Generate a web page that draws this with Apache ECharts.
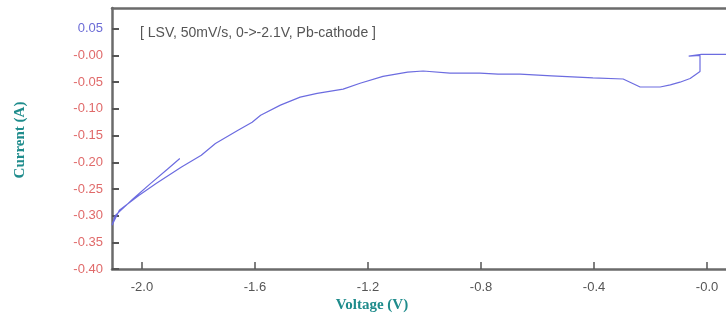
<!DOCTYPE html>
<html>
<head>
<meta charset="utf-8">
<script src="https://cdn.jsdelivr.net/npm/echarts@6/dist/echarts.min.js"></script>
<style>
  html, body { margin: 0; padding: 0; background: #fff; }
  #chart { width: 726px; height: 320px; }
</style>
</head>
<body>
<div id="chart"></div>
<script>
// barrido LSV: voltaje (V) y corriente (A)
const voltage = [0.067, -0.02, -0.065, -0.025, -0.025, -0.032, -0.06, -0.096, -0.13, -0.166, -0.237, -0.265,
  -0.297, -0.404, -0.55, -0.662, -0.74, -0.804, -0.91, -1.005, -1.06, -1.147, -1.228, -1.288, -1.38,
  -1.44, -1.51, -1.58, -1.61, -1.66, -1.74, -1.79, -1.86, -1.95, -2.01, -2.08, -2.106,
  -2.095, -2.03, -1.97, -1.91, -1.866];
const current = [0.002, 0.002, -0.001, 0.0, -0.03, -0.033, -0.043, -0.05, -0.055, -0.059, -0.059, -0.052,
  -0.044, -0.042, -0.038, -0.035, -0.035, -0.033, -0.033, -0.029, -0.031, -0.039, -0.052, -0.063, -0.071,
  -0.078, -0.093, -0.112, -0.125, -0.14, -0.165, -0.187, -0.209, -0.24, -0.262, -0.29, -0.318,
  -0.3, -0.268, -0.24, -0.213, -0.193];
const xTicks = [-2.0, -1.6, -1.2, -0.8, -0.4, 0.0];
const yTicks = [0.05, 0.0, -0.05, -0.1, -0.15, -0.2, -0.25, -0.3, -0.35, -0.4];
const note = '[ LSV, 50mV/s, 0->-2.1V, Pb-cathode ]';

const puntos = voltage.map((v, i) => [v, current[i]]);

const chart = echarts.init(document.getElementById('chart'));
const ejeGris = { show: true, onZero: false, lineStyle: { color: '#6b6b6b', width: 2.5 } };
const fuenteEje = 'Liberation Sans Narrow, Arial Narrow, sans-serif';

chart.setOption({
  backgroundColor: '#fff',
  animation: false,
  grid: { left: 112, top: 8, right: 0, bottom: 51 },
  xAxis: [{
    type: 'value',
    min: -2.106,
    max: 0.067,
    axisLine: ejeGris,
    axisTick: { show: true, inside: true, length: 7, customValues: xTicks, lineStyle: { color: '#555', width: 1.5 } },
    axisLabel: {
      customValues: xTicks,
      margin: 12,
      color: '#555',
      fontSize: 13,
      fontFamily: fuenteEje,
      formatter: v => (v === 0 ? '-0.0' : v.toFixed(1))
    },
    splitLine: { show: false }
  }, {
    type: 'value',
    position: 'top',
    min: -2.106,
    max: 0.067,
    axisLine: ejeGris,
    axisTick: { show: false },
    axisLabel: { show: false },
    splitLine: { show: false }
  }],
  yAxis: {
    type: 'value',
    min: -0.4,
    max: 0.089,
    axisLine: ejeGris,
    axisTick: { show: true, inside: true, length: 7, customValues: yTicks, lineStyle: { color: '#555', width: 2 } },
    axisLabel: {
      customValues: yTicks,
      margin: 9,
      fontSize: 13,
      fontFamily: fuenteEje,
      color: '#e06a6a',
      formatter: v => (v > 0 ? '{pos|' + v.toFixed(2) + '}' : '-' + Math.abs(v).toFixed(2)),
      rich: { pos: { color: '#6b6bd6', fontSize: 13, fontFamily: fuenteEje } }
    },
    splitLine: { show: false }
  },
  series: [{
    type: 'line',
    data: puntos,
    showSymbol: false,
    smooth: false,
    lineStyle: { color: '#6c6ce0', width: 1.2 }
  }],
  graphic: [
    {
      type: 'text', left: 140, top: 26,
      style: { text: note, fill: '#555', fontSize: 14, fontFamily: fuenteEje }
    },
    {
      type: 'text', x: 372, y: 305,
      style: { text: 'Voltage (V)', fill: '#1f8c8c', fontSize: 15, fontWeight: 'bold',
        fontFamily: 'Liberation Serif, Times New Roman, serif', align: 'center', verticalAlign: 'middle' }
    },
    {
      type: 'text', x: 20, y: 140, rotation: Math.PI / 2,
      style: { text: 'Current (A)', fill: '#1f8c8c', fontSize: 15, fontWeight: 'bold',
        fontFamily: 'Liberation Serif, Times New Roman, serif', align: 'center', verticalAlign: 'middle' }
    }
  ]
});
</script>
</body>
</html>
